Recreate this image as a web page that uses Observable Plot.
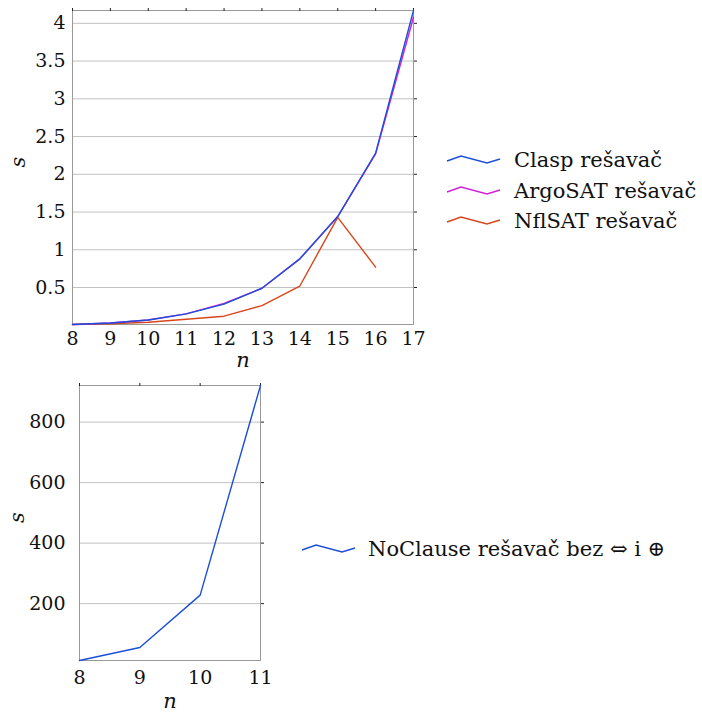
<!DOCTYPE html>
<html><head><meta charset="utf-8">
<script src="https://cdn.jsdelivr.net/npm/d3@7"></script>
<script src="https://cdn.jsdelivr.net/npm/@observablehq/plot@0.6"></script>
<style>
body{margin:0;background:#fff;font-family:"DejaVu Serif",serif;}
#wrap{position:relative;width:702px;height:713px;overflow:hidden;}
.chart{position:absolute;}
.legend{position:absolute;font-size:21px;color:#111;font-family:"DejaVu Serif",serif;}
.legend .row{display:flex;align-items:center;height:30.5px;white-space:nowrap;}
</style></head><body><div id="wrap"></div>
<script>
// ---- data ----
const nTop = [8, 9, 10, 11, 12, 13, 14, 15, 16, 17];
const claspS = [0.01, 0.03, 0.07, 0.15, 0.28, 0.49, 0.88, 1.44, 2.28, 4.17];
const argoS  = [0.01, 0.03, 0.07, 0.15, 0.29, 0.49, 0.88, 1.44, 2.27, 4.08];
const nflN   = [8, 9, 10, 11, 12, 13, 14, 15, 16];
const nflS   = [0.01, 0.02, 0.04, 0.08, 0.12, 0.26, 0.52, 1.43, 0.77];
const seriesNames  = ["Clasp rešavač", "ArgoSAT rešavač", "NflSAT rešavač"];
const seriesColors = ["#1c4fd8", "#d21ed8", "#d7461a"];
const yTicksTop = [0.5, 1, 1.5, 2, 2.5, 3, 3.5, 4];

const nBottom = [8, 9, 10, 11];
const noClauseS = [12, 55, 228, 921];
const noClauseName = "NoClause rešavač bez ⇔ i ⊕";
const noClauseColor = "#1c4fd8";
const yTicksBottom = [200, 400, 600, 800];

const xLabel = "n", yLabel = "s";

// ---- helpers ----
const wrap = document.getElementById("wrap");
const font = {fontFamily: "'DejaVu Serif', serif", fontSize: "19px", background: "transparent", color: "#111", overflow: "visible"};
const gridColor = "#c2c2c2", frameColor = "#999999";

function rows(xs, ys, name) { return xs.map((x, i) => ({n: x, s: ys[i], series: name})); }

function place(el, left, topPx) { el.classList.add("chart"); el.style.left = left + "px"; el.style.top = topPx + "px"; wrap.appendChild(el); }

function legend(items, left, topPx, gap) {
  const div = document.createElement("div");
  div.className = "legend";
  div.style.left = left + "px"; div.style.top = topPx + "px";
  for (const [name, color] of items) {
    const r = document.createElement("div"); r.className = "row";
    r.innerHTML = `<svg width="53" height="12" style="margin-right:${gap}px;overflow:visible"><polyline points="0,7 14,2 40,9 53,5" fill="none" stroke="${color}" stroke-width="1.4"/></svg><span>${name}</span>`;
    div.appendChild(r);
  }
  wrap.appendChild(div);
}

// ---- top chart ----
const chartTop = Plot.plot({
  width: 430, height: 372,
  marginTop: 10, marginRight: 17, marginBottom: 48, marginLeft: 72,
  style: font,
  x: {ticks: nTop, label: null},
  y: {label: null},
  color: {domain: seriesNames, range: seriesColors},
  marks: [
    Plot.ruleY(yTicksTop, {stroke: gridColor, strokeWidth: 1}),
    Plot.frame({stroke: frameColor, strokeWidth: 1}),
    Plot.axisX(nTop, {anchor: "bottom", tickSize: 0, tickPadding: 7, label: null, fill: "#111"}),
    Plot.axisX(nTop, {anchor: "top", tickSize: 3, tickFormat: () => "", label: null, stroke: "#222"}),
    Plot.axisY(yTicksTop, {anchor: "left", tickSize: 0, tickPadding: 7, tickFormat: d => String(d), label: null, fill: "#111"}),
    Plot.axisY(yTicksTop, {anchor: "right", tickSize: 3, tickFormat: () => "", label: null, stroke: "#222"}),
    Plot.line(rows(nflN, nflS, seriesNames[2]), {x: "n", y: "s", stroke: "series", strokeWidth: 1.4}),
    Plot.line(rows(nTop, argoS, seriesNames[1]), {x: "n", y: "s", stroke: "series", strokeWidth: 1.4}),
    Plot.line(rows(nTop, claspS, seriesNames[0]), {x: "n", y: "s", stroke: "series", strokeWidth: 1.4}),
    Plot.text([yLabel], {frameAnchor: "left", dx: -54, rotate: -90, fontStyle: "italic", fontSize: 21, fill: "#111"}),
    Plot.text([xLabel], {frameAnchor: "bottom", dy: 42, fontStyle: "italic", fontSize: 21, fill: "#111"})
  ]
});
place(chartTop, 0, 0);
legend(seriesNames.map((d, i) => [d, seriesColors[i]]), 447, 145, 14);

// ---- bottom chart ----
const chartBottom = Plot.plot({
  width: 290, height: 338,
  marginTop: 10, marginRight: 30, marginBottom: 53, marginLeft: 79,
  style: font,
  x: {ticks: nBottom, label: null},
  y: {label: null},
  marks: [
    Plot.ruleY(yTicksBottom, {stroke: gridColor, strokeWidth: 1}),
    Plot.frame({stroke: frameColor, strokeWidth: 1}),
    Plot.axisX(nBottom, {anchor: "bottom", tickSize: 0, tickPadding: 10, label: null, fill: "#111"}),
    Plot.axisX(nBottom, {anchor: "top", tickSize: 3, tickFormat: () => "", label: null, stroke: "#222"}),
    Plot.axisY(yTicksBottom, {anchor: "left", tickSize: 0, tickPadding: 14, label: null, fill: "#111"}),
    Plot.axisY(yTicksBottom, {anchor: "right", tickSize: 3, tickFormat: () => "", label: null, stroke: "#222"}),
    Plot.line(rows(nBottom, noClauseS, noClauseName), {x: "n", y: "s", stroke: noClauseColor, strokeWidth: 1.4}),
    Plot.text([yLabel], {frameAnchor: "left", dx: -62, rotate: -90, fontStyle: "italic", fontSize: 21, fill: "#111"}),
    Plot.text([xLabel], {frameAnchor: "bottom", dy: 47, fontStyle: "italic", fontSize: 21, fill: "#111"})
  ]
});
place(chartBottom, 0, 375);
legend([[noClauseName, noClauseColor]], 302, 534, 13);
</script></body></html>
